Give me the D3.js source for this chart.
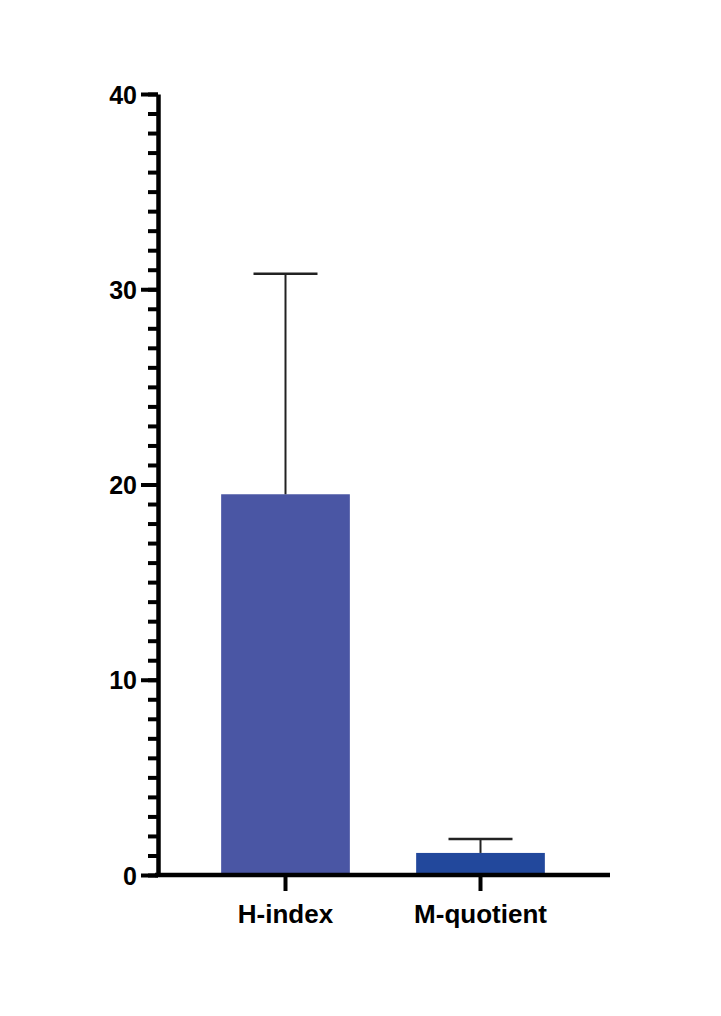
<!DOCTYPE html>
<html>
<head>
<meta charset="utf-8">
<script src="https://cdn.jsdelivr.net/npm/d3@7"></script>
<style>
  body { margin: 0; background: #fff; }
  text { font-family: "Liberation Sans", Arial, sans-serif; font-weight: bold; }
</style>
</head>
<body>
<div id="chart"></div>
<script>
// data
var categories = ["H-index", "M-quotient"];
var means = [19.5, 1.13];
var errUpper = [30.8, 1.85];
var barColors = ["#4a56a4", "#22489c"];
var majorTicks = [0, 10, 20, 30, 40];

var svgWidth = 721;
var svgHeight = 1016;

var margin = { top: 94, right: 111, bottom: 141, left: 158 };
var height = svgHeight - margin.top - margin.bottom;
var width = svgWidth - margin.left - margin.right;

var svg = d3.select("#chart")
  .append("svg")
  .attr("width", svgWidth)
  .attr("height", svgHeight);

var g = svg.append("g")
  .attr("transform", `translate(${margin.left}, ${margin.top})`);

var yScale = d3.scaleLinear()
  .domain([0, 40])
  .range([height, 0]);

// two category slots, bars sit in the middle of each
var xScale = d3.scaleBand()
  .domain(categories)
  .range([30, 420])
  .paddingInner(0.34)
  .paddingOuter(0.17);

// minor ticks every 1
var minorAxis = d3.axisLeft(yScale)
  .tickValues(d3.range(0, 41, 1))
  .tickSize(10)
  .tickFormat("");
var minorG = g.append("g").call(minorAxis);
minorG.select(".domain").remove();
minorG.selectAll("line").attr("stroke", "#000").attr("stroke-width", 4);

// major ticks with labels
var leftAxis = d3.axisLeft(yScale)
  .tickValues(majorTicks)
  .tickSize(17)
  .tickPadding(4)
  .tickSizeOuter(0);
var yG = g.append("g").call(leftAxis);
yG.select(".domain").attr("stroke", "#000").attr("stroke-width", 4.5);
yG.selectAll("line").attr("stroke", "#000").attr("stroke-width", 4);
yG.selectAll("text")
  .attr("fill", "#000")
  .style("font-size", "25px")
  .attr("dy", "0.36em");

// bars
g.selectAll("rect.bar")
  .data(categories)
  .enter()
  .append("rect")
  .attr("class", "bar")
  .attr("x", d => xScale(d))
  .attr("width", xScale.bandwidth())
  .attr("y", (d, i) => yScale(means[i]))
  .attr("height", (d, i) => yScale(0) - yScale(means[i]))
  .attr("fill", (d, i) => barColors[i]);

// error bars (upper only)
var capHalf = 32;
categories.forEach(function(c, i) {
  var cx = xScale(c) + xScale.bandwidth() / 2;
  g.append("line")
    .attr("x1", cx).attr("x2", cx)
    .attr("y1", yScale(means[i])).attr("y2", yScale(errUpper[i]))
    .attr("stroke", "#222").attr("stroke-width", 2);
  g.append("line")
    .attr("x1", cx - capHalf).attr("x2", cx + capHalf)
    .attr("y1", yScale(errUpper[i])).attr("y2", yScale(errUpper[i]))
    .attr("stroke", "#222").attr("stroke-width", 2.5);
});

// x axis
var bottomAxis = d3.axisBottom(xScale)
  .tickSize(16)
  .tickPadding(14)
  .tickSizeOuter(0);
var xG = g.append("g")
  .attr("transform", `translate(0, ${height})`)
  .call(bottomAxis);
xG.select(".domain")
  .attr("d", `M-3,0H${452}`)
  .attr("stroke", "#000").attr("stroke-width", 4.5);
xG.selectAll("line").attr("stroke", "#000").attr("stroke-width", 4);
xG.selectAll("text")
  .attr("fill", "#000")
  .style("font-size", "26px");
</script>
</body>
</html>
